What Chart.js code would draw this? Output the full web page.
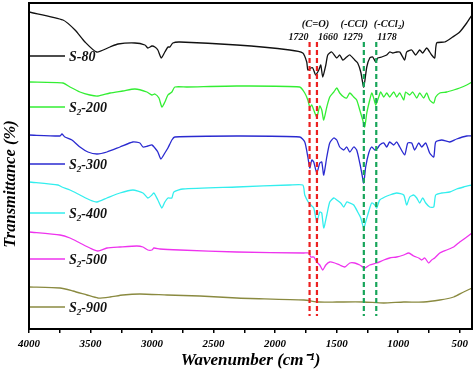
<!DOCTYPE html>
<html>
<head>
<meta charset="utf-8">
<script src="https://cdn.jsdelivr.net/npm/chart.js@4.4.0/dist/chart.umd.min.js"></script>
<style>
  html, body { margin: 0; padding: 0; background: #fff; }
</style>
</head>
<body>
<canvas id="ftir" width="474" height="371"></canvas>
<script>
var serif = "'Liberation Serif', 'Times New Roman', serif";

// wavenumber (cm-1) / transmittance (a.u., curves offset)
var s80Wn = [4000,3724,3626,3545,3450,3342,3277,3139,3058,3034,3001,2977,2953,2925,2896,2871,2855,2831,2774,2311,1881,1775,1743,1734,1710,1694,1670,1645,1629,1613,1588,1572,1540,1499,1475,1450,1418,1393,1353,1329,1304,1280,1255,1231,1207,1182,1166,1134,1093,1069,1044,1012,987,947,931,890,858,825,801,768,728,703,687,622,557,500,443,400];
var s80T  = [317,309,299,287,277,282,285,286,284,281,283,282,279,271,277,282,282,286,287,284,279,276,267,259,261,261,254,259,264,252,264,274,277,271,274,269,272,274,269,266,257,242,262,271,272,267,271,272,274,277,276,277,277,269,277,279,274,279,276,281,274,271,286,287,292,297,306,314];

var s200Wn = [4000,3724,3667,3586,3505,3440,3342,3237,3139,3042,3001,2977,2944,2920,2896,2871,2839,2815,2717,2311,1800,1759,1734,1718,1702,1686,1661,1637,1621,1605,1580,1556,1523,1499,1475,1442,1418,1393,1361,1337,1312,1288,1272,1255,1231,1215,1199,1182,1158,1142,1117,1093,1069,1036,1012,987,955,939,906,882,849,825,793,768,744,711,695,662,606,549,500,443,400];
var s200T  = [247,246,242,237,234,233,236,238,240,237,234,235,231,222,227,234,237,242,242,243,242,236,229,222,224,219,212,223,219,209,222,232,237,241,236,232,231,236,232,229,219,209,202,216,229,236,231,224,232,237,232,236,232,237,232,236,229,237,234,237,231,236,231,236,229,226,232,236,237,239,241,244,247];

var s300Wn = [4000,3748,3732,3708,3651,3586,3521,3448,3367,3261,3156,3099,3074,3034,3001,2977,2953,2928,2896,2871,2839,2815,2311,1800,1759,1734,1718,1702,1686,1661,1637,1621,1605,1580,1556,1523,1499,1475,1442,1418,1393,1361,1337,1312,1296,1280,1264,1239,1215,1190,1166,1150,1117,1093,1069,1036,1012,987,947,922,890,866,833,809,776,744,711,695,646,581,525,443,400];
var s300T  = [194,193,195,192,189,182,177,175,177,182,187,186,182,183,184,181,177,170,176,181,189,192,193,192,187,172,161,169,167,156,166,167,154,172,186,191,189,182,179,182,177,182,179,166,156,146,162,176,182,179,181,184,186,182,187,184,187,182,174,186,186,179,186,182,186,176,172,187,189,187,190,193,193];

var s400Wn = [4000,3764,3732,3667,3586,3505,3448,3367,3261,3156,3074,3034,3001,2985,2953,2920,2896,2871,2839,2823,2750,2311,1881,1775,1759,1726,1710,1686,1661,1637,1621,1605,1580,1556,1523,1499,1467,1442,1418,1393,1361,1329,1304,1280,1264,1231,1215,1190,1174,1150,1109,1069,1012,955,931,906,874,849,825,801,776,744,711,695,646,581,525,468,400];
var s400T  = [147,144,142,139,134,129,127,131,136,139,136,131,134,136,129,121,127,131,131,137,140,142,144,144,134,126,124,121,107,117,116,101,114,127,131,129,126,122,127,126,124,117,111,101,107,121,126,124,121,129,132,134,136,134,124,132,134,131,126,131,126,122,122,134,136,137,140,142,144];

var s500Wn = [4000,3748,3667,3586,3505,3440,3367,3261,3123,3074,3034,3001,2985,2936,2774,2311,1767,1726,1710,1686,1661,1637,1613,1588,1556,1515,1475,1434,1393,1353,1312,1272,1231,1174,1117,1069,1012,955,914,874,833,809,784,752,728,703,662,606,549,500,443,400];
var s500T  = [97,94,91,86,81,78,81,82,83,82,79,79,81,80,79,77,76,76,72,72,67,64,59,64,67,66,64,62,66,66,64,61,64,66,69,71,72,74,76,73,71,69,71,66,69,71,76,79,82,87,92,96];

var s900Wn = [4000,3748,3643,3529,3440,3342,3237,3099,2879,2611,2311,1767,1645,1499,1280,1117,955,793,662,549,468,400];
var s900T  = [42,41,38,34,31,32,34,35,34,33,31,29,27,27,27,26,27,27,29,32,37,41];

var seriesNames  = ['S-80', 'S_2-200', 'S_2-300', 'S_2-400', 'S_2-500', 'S_2-900'];
var seriesColors = ['#111111', '#33ee33', '#2a2ad0', '#33eeee', '#ee33ee', '#8a8a40'];
var seriesWn = [s80Wn, s200Wn, s300Wn, s400Wn, s500Wn, s900Wn];
var seriesT  = [s80T, s200T, s300T, s400T, s500T, s900T];

var xTicks = [4000,3750,3500,3250,3000,2750,2500,2250,2000,1750,1500,1250,1000,750,500];

// marked bands
var bandWn     = [1720, 1660, 1279, 1178];
var bandColors = ['#ec2020', '#ec2020', '#17a55a', '#17a55a'];
var bandGroups = ['(C=O)', '(-CCl)', '(-CCl_2)'];
var groupWn    = [1672, 1357, 1072];

function pts(wn, t) {
  return wn.map(function (w, i) { return { x: w, y: t[i] }; });
}

var datasets = [];
for (var i = 0; i < seriesNames.length; i++) {
  datasets.push({
    label: seriesNames[i],
    data: pts(seriesWn[i], seriesT[i]),
    borderColor: seriesColors[i],
    borderWidth: 1.3,
    pointRadius: 0,
    tension: 0.2,
    fill: false
  });
}

// text with one-character subscript written as "_2"
function drawText(ctx, str, x, y, size, align) {
  var parts = str.split('_');
  var pieces = [[parts[0], false]];
  for (var k = 1; k < parts.length; k++) {
    pieces.push([parts[k].charAt(0), true]);
    pieces.push([parts[k].slice(1), false]);
  }
  var big = 'italic bold ' + size + 'px ' + serif;
  var small = 'italic bold ' + Math.round(size * 0.65) + 'px ' + serif;
  var w = 0;
  pieces.forEach(function (p) { ctx.font = p[1] ? small : big; w += ctx.measureText(p[0]).width; });
  var cx = align === 'center' ? x - w / 2 : (align === 'right' ? x - w : x);
  ctx.textAlign = 'left';
  ctx.textBaseline = 'middle';
  pieces.forEach(function (p) {
    ctx.font = p[1] ? small : big;
    ctx.fillText(p[0], cx, p[1] ? y + size * 0.3 : y);
    cx += ctx.measureText(p[0]).width;
  });
}

var extras = {
  id: 'extras',
  afterDatasetsDraw: function (chart) {
    var ctx = chart.ctx, xs = chart.scales.x, ys = chart.scales.y, a = chart.chartArea;
    ctx.save();
    // dashed band markers
    ctx.lineWidth = 2.2;
    ctx.setLineDash([5, 3]);
    for (var i = 0; i < bandWn.length; i++) {
      var bx = xs.getPixelForValue(bandWn[i]);
      ctx.strokeStyle = bandColors[i];
      ctx.beginPath();
      ctx.moveTo(bx, ys.getPixelForValue(287));
      ctx.lineTo(bx, ys.getPixelForValue(13));
      ctx.stroke();
    }
    ctx.setLineDash([]);
    ctx.fillStyle = '#111';
    for (var g = 0; g < bandGroups.length; g++) {
      drawText(ctx, bandGroups[g], xs.getPixelForValue(groupWn[g]), ys.getPixelForValue(305), 10.5, 'center');
    }
    for (var j = 0; j < bandWn.length; j++) {
      var px = xs.getPixelForValue(bandWn[j]);
      var right = (j % 2 === 0);
      drawText(ctx, String(bandWn[j]), right ? px - 1 : px + 1, ys.getPixelForValue(292), 10, right ? 'right' : 'left');
    }
    // series keys
    var keyT = [273, 222, 165, 116, 70, 22];
    ctx.lineWidth = 1.3;
    for (var s = 0; s < seriesNames.length; s++) {
      var ky = ys.getPixelForValue(keyT[s]);
      ctx.strokeStyle = seriesColors[s];
      ctx.beginPath();
      ctx.moveTo(a.left, ky);
      ctx.lineTo(a.left + 36, ky);
      ctx.stroke();
      ctx.fillStyle = '#111';
      drawText(ctx, seriesNames[s], a.left + 40, ky + 1, 14, 'left');
    }
    // frame
    ctx.strokeStyle = '#000';
    ctx.lineWidth = 2;
    ctx.strokeRect(a.left, a.top, a.right - a.left, a.bottom - a.top);
    // y axis title, sits a little below the middle in the original
    ctx.translate(11, ys.getPixelForValue(145));
    ctx.rotate(-Math.PI / 2);
    ctx.fillStyle = '#000';
    ctx.font = 'italic bold 16.5px ' + serif;
    ctx.textAlign = 'center';
    ctx.textBaseline = 'middle';
    ctx.fillText('Transmittance (%)', 0, 0);
    ctx.restore();
  }
};

new Chart(document.getElementById('ftir'), {
  type: 'line',
  data: { datasets: datasets },
  options: {
    responsive: false,
    animation: false,
    layout: { padding: { top: 3, right: 2, left: 0, bottom: 0 } },
    plugins: { legend: { display: false }, tooltip: { enabled: false } },
    scales: {
      x: {
        type: 'linear',
        reverse: true,
        min: 400,
        max: 4000,
        afterBuildTicks: function (s) { s.ticks = xTicks.map(function (v) { return { value: v }; }); },
        afterFit: function (s) { s.height = 42; },
        ticks: {
          autoSkip: false,
          maxRotation: 0,
          padding: 5,
          color: '#000',
          font: { family: serif, size: 11, style: 'italic', weight: 'bold' },
          callback: function (v) { return v % 500 === 0 ? String(v) : ''; }
        },
        grid: { display: true, drawOnChartArea: false, drawTicks: true, tickLength: 4, color: '#000', lineWidth: 1.5 },
        border: { display: false },
        title: {
          display: true,
          text: 'Wavenumber (cm\u207B\u00B9)',
          color: '#000',
          font: { family: serif, size: 17, style: 'italic', weight: 'bold' },
          padding: { top: 0, bottom: 0 }
        }
      },
      y: {
        min: 0,
        max: 326,
        afterFit: function (s) { s.width = 29; },
        ticks: { display: false },
        grid: { display: false },
        border: { display: false },
        title: { display: false }
      }
    }
  },
  plugins: [extras]
});
</script>
</body>
</html>
